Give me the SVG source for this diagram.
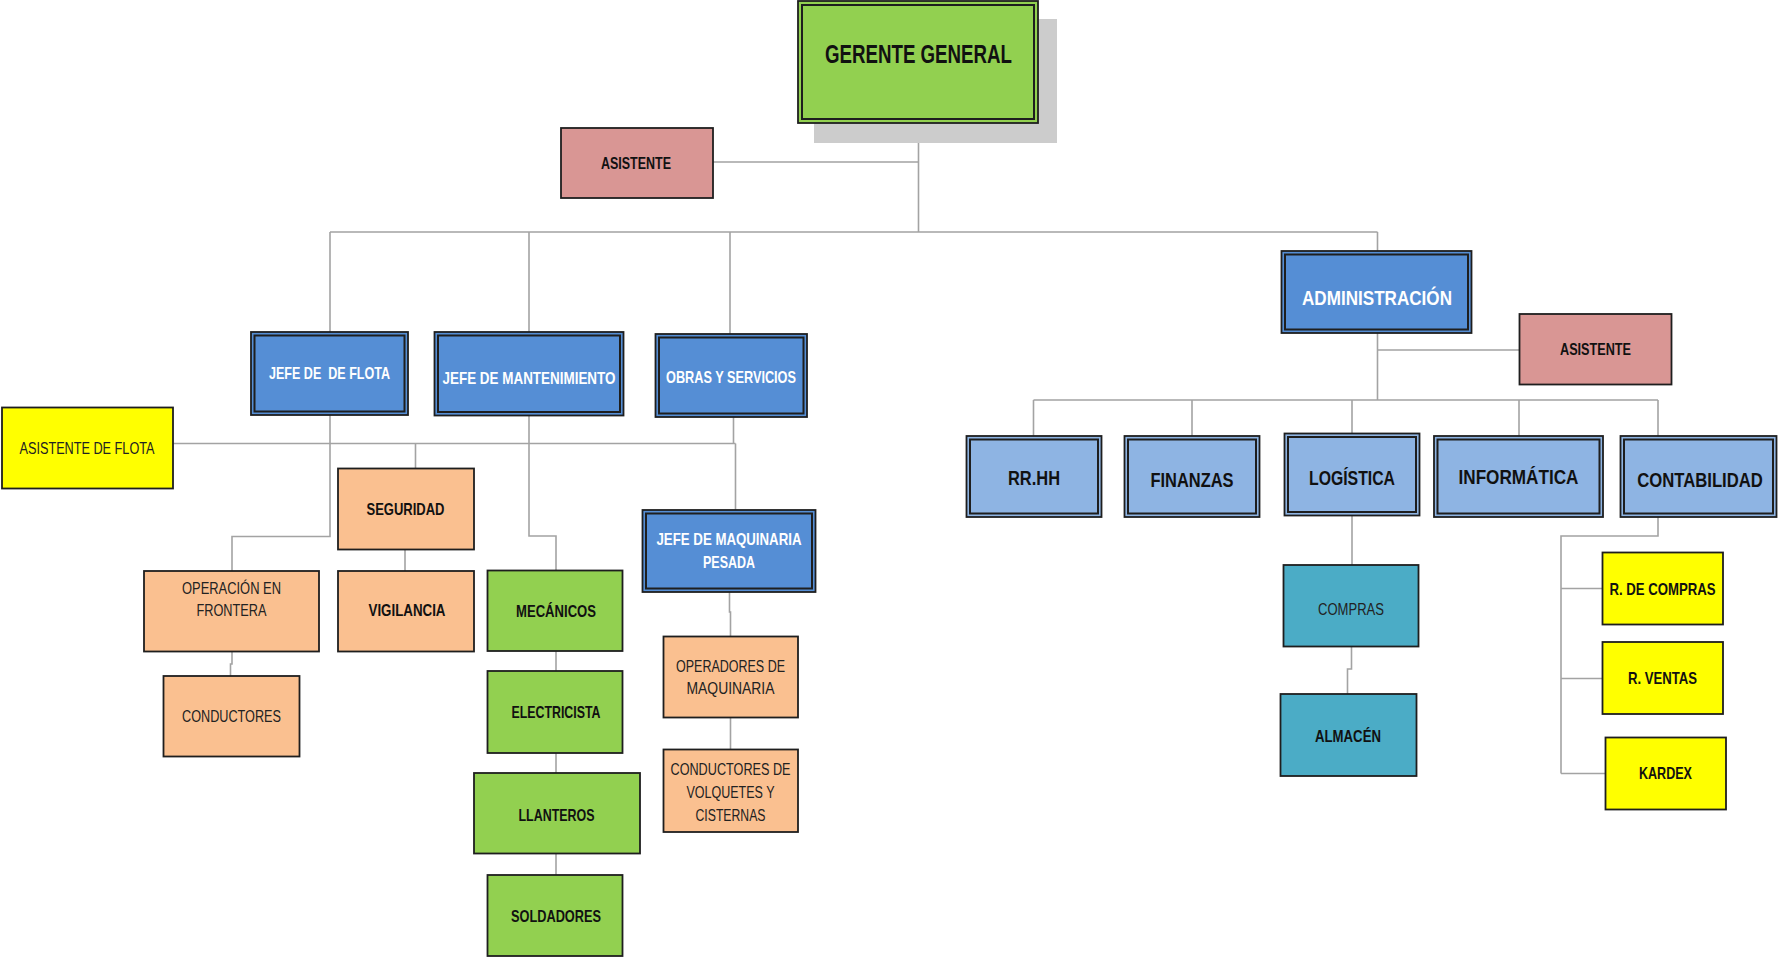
<svg xmlns="http://www.w3.org/2000/svg" width="1778" height="961" viewBox="0 0 1778 961">
<style>
.bx{stroke:#1e1e1e;stroke-width:1.8}
.in{fill:none;stroke:#1e1e1e;stroke-width:2}
.green{fill:#92D050}
.blue{fill:#558ED5}
.lblue{fill:#8EB4E3}
.pink{fill:#D99694}
.peach{fill:#FAC090}
.yellow{fill:#FFFF00}
.teal{fill:#4BACC6}
text{font-family:"Liberation Sans",Arial,sans-serif;text-anchor:middle;fill:#111}
.b{font-weight:bold;font-size:16.5px}
.r{font-weight:normal;font-size:16px;fill:#222}
.w{fill:#fff}
.big{font-size:20px}
.cn{fill:none;stroke:#a3a3a3;stroke-width:1.6}
</style>
<rect width="1778" height="961" fill="#fff"/>
<g id="connectors">
<path class="cn" d="M918.5,123V232M713,162H918.5M330,232H1377.5M330,232V332M529,232V332M730,232V334M1377.5,232V251"/>
<path class="cn" d="M173,443.5H735.5M330,415V536.5H232V571M415.5,443.5V468.5M405,549.5V571M232,651.5V664H230.5V676"/>
<path class="cn" d="M529,415.5V536H556V570.5M556,651V671M556,753V773M556,853.5V875"/>
<path class="cn" d="M733.5,417V443.5M735.5,443.5V510M729.5,592V612H730.5V636.5M730.5,717.5V749.5"/>
<path class="cn" d="M1377.5,333V400M1377.5,350H1519.5M1033.5,400H1658M1033.5,400V436M1192,400V436M1352,400V433.5M1519,400V436M1658,400V436"/>
<path class="cn" d="M1352,515.5V565M1351.5,646.5V669H1347.5V694"/>
<path class="cn" d="M1658,517V536H1561V773.5M1561,588.5H1602.5M1561,678.5H1602.5M1561,773.5H1605.5"/>
</g>
<g id="gerente">
<rect x="814" y="19" width="243" height="124" fill="#CCCCCC"/>
<rect class="bx green" x="798" y="1" width="240" height="122"/>
<rect class="in" x="802" y="5" width="232" height="114"/>
<text class="b" x="918.5" y="63" style="font-size:26px" textLength="187" lengthAdjust="spacingAndGlyphs">GERENTE GENERAL</text>
</g>
<g id="asistente1">
<rect class="bx pink" x="561" y="128" width="152" height="70"/>
<text class="b" x="636" y="168.5" textLength="70" lengthAdjust="spacingAndGlyphs">ASISTENTE</text>
</g>
<g id="jefe-flota">
<rect class="bx blue" x="251" y="332" width="157" height="83"/>
<rect class="in" x="254.5" y="335.5" width="150" height="76"/>
<text class="b w" x="329.5" y="379" xml:space="preserve" textLength="121" lengthAdjust="spacingAndGlyphs">JEFE DE  DE FLOTA</text>
</g>
<g id="jefe-mant">
<rect class="bx blue" x="434.5" y="332" width="189" height="83.5"/>
<rect class="in" x="438" y="335.5" width="182" height="76.5"/>
<text class="b w" x="529" y="383.5" textLength="173" lengthAdjust="spacingAndGlyphs">JEFE DE MANTENIMIENTO</text>
</g>
<g id="obras">
<rect class="bx blue" x="655.5" y="334" width="151.5" height="83"/>
<rect class="in" x="659" y="337.5" width="144.5" height="76"/>
<text class="b w" x="731" y="382.5" textLength="130" lengthAdjust="spacingAndGlyphs">OBRAS Y SERVICIOS</text>
</g>
<g id="asistente-flota">
<rect class="bx yellow" x="2" y="407.5" width="171" height="81"/>
<text class="r" x="87" y="453.5" textLength="135" lengthAdjust="spacingAndGlyphs">ASISTENTE DE FLOTA</text>
</g>
<g id="seguridad">
<rect class="bx peach" x="338" y="468.5" width="136" height="81"/>
<text class="b" x="405.5" y="514.5" textLength="78" lengthAdjust="spacingAndGlyphs">SEGURIDAD</text>
</g>
<g id="vigilancia">
<rect class="bx peach" x="338" y="571" width="136" height="80.5"/>
<text class="b" x="407" y="616" textLength="77" lengthAdjust="spacingAndGlyphs">VIGILANCIA</text>
</g>
<g id="operacion">
<rect class="bx peach" x="144" y="571" width="175" height="80.5"/>
<text class="r" x="231.5" y="593.5" textLength="99" lengthAdjust="spacingAndGlyphs">OPERACIÓN EN</text>
<text class="r" x="231.5" y="616" textLength="70" lengthAdjust="spacingAndGlyphs">FRONTERA</text>
</g>
<g id="conductores">
<rect class="bx peach" x="163.5" y="676" width="136" height="80.5"/>
<text class="r" x="231.5" y="721.5" textLength="99" lengthAdjust="spacingAndGlyphs">CONDUCTORES</text>
</g>
<g id="mecanicos">
<rect class="bx green" x="487.5" y="570.5" width="135" height="80.5"/>
<text class="b" x="556" y="616.5" textLength="80" lengthAdjust="spacingAndGlyphs">MECÁNICOS</text>
</g>
<g id="electricista">
<rect class="bx green" x="487.5" y="671" width="135" height="82"/>
<text class="b" x="556" y="718" textLength="89" lengthAdjust="spacingAndGlyphs">ELECTRICISTA</text>
</g>
<g id="llanteros">
<rect class="bx green" x="474" y="773" width="166" height="80.5"/>
<text class="b" x="556.5" y="820.5" textLength="76" lengthAdjust="spacingAndGlyphs">LLANTEROS</text>
</g>
<g id="soldadores">
<rect class="bx green" x="487.5" y="875" width="135" height="81"/>
<text class="b" x="556" y="921.5" textLength="90" lengthAdjust="spacingAndGlyphs">SOLDADORES</text>
</g>
<g id="jefe-maquinaria">
<rect class="bx blue" x="642.5" y="510" width="173" height="82"/>
<rect class="in" x="646" y="513.5" width="166" height="75"/>
<text class="b w" x="729" y="545" textLength="145" lengthAdjust="spacingAndGlyphs">JEFE DE MAQUINARIA</text>
<text class="b w" x="729" y="567.5" textLength="52" lengthAdjust="spacingAndGlyphs">PESADA</text>
</g>
<g id="operadores">
<rect class="bx peach" x="663.5" y="636.5" width="134.5" height="81"/>
<text class="r" x="730.5" y="671.5" textLength="109" lengthAdjust="spacingAndGlyphs">OPERADORES DE</text>
<text class="r" x="730.5" y="694" textLength="88" lengthAdjust="spacingAndGlyphs">MAQUINARIA</text>
</g>
<g id="conductores-volquetes">
<rect class="bx peach" x="663.5" y="749.5" width="134.5" height="82.5"/>
<text class="r" x="730.5" y="774.5" textLength="120" lengthAdjust="spacingAndGlyphs">CONDUCTORES DE</text>
<text class="r" x="730.5" y="797.5" textLength="88" lengthAdjust="spacingAndGlyphs">VOLQUETES Y</text>
<text class="r" x="730.5" y="820.5" textLength="70" lengthAdjust="spacingAndGlyphs">CISTERNAS</text>
</g>
<g id="administracion">
<rect class="bx blue" x="1281.5" y="251" width="190" height="82"/>
<rect class="in" x="1285" y="254.5" width="183" height="75"/>
<text class="b w" x="1377" y="305" style="font-size:21px" textLength="150" lengthAdjust="spacingAndGlyphs">ADMINISTRACIÓN</text>
</g>
<g id="asistente2">
<rect class="bx pink" x="1519.5" y="314" width="152" height="70.5"/>
<text class="b" x="1595.5" y="355" textLength="71" lengthAdjust="spacingAndGlyphs">ASISTENTE</text>
</g>
<g id="rrhh">
<rect class="bx lblue" x="966.5" y="436" width="135" height="81"/>
<rect class="in" x="970" y="439.5" width="128" height="74"/>
<text class="b big" x="1034" y="484.5" textLength="52" lengthAdjust="spacingAndGlyphs">RR.HH</text>
</g>
<g id="finanzas">
<rect class="bx lblue" x="1124.5" y="436" width="135" height="81"/>
<rect class="in" x="1128" y="439.5" width="128" height="74"/>
<text class="b big" x="1192" y="487" textLength="83" lengthAdjust="spacingAndGlyphs">FINANZAS</text>
</g>
<g id="logistica">
<rect class="bx lblue" x="1284.5" y="433.5" width="135" height="82"/>
<rect class="in" x="1288" y="437" width="128" height="75"/>
<text class="b big" x="1352" y="485" textLength="86" lengthAdjust="spacingAndGlyphs">LOGÍSTICA</text>
</g>
<g id="informatica">
<rect class="bx lblue" x="1434" y="436" width="169" height="81"/>
<rect class="in" x="1437.5" y="439.5" width="162" height="74"/>
<text class="b big" x="1518.5" y="483.5" textLength="120" lengthAdjust="spacingAndGlyphs">INFORMÁTICA</text>
</g>
<g id="contabilidad">
<rect class="bx lblue" x="1620.5" y="436" width="156" height="81"/>
<rect class="in" x="1624" y="439.5" width="149" height="74"/>
<text class="b big" transform="translate(1700,487) scale(0.834,1)" x="0" y="0">CONTABILIDAD</text>
</g>
<g id="compras">
<rect class="bx teal" x="1283.5" y="565" width="135" height="81.5"/>
<text class="r" x="1351" y="615" textLength="66" lengthAdjust="spacingAndGlyphs">COMPRAS</text>
</g>
<g id="almacen">
<rect class="bx teal" x="1280.5" y="694" width="136" height="82"/>
<text class="b" x="1348" y="742" textLength="66" lengthAdjust="spacingAndGlyphs">ALMACÉN</text>
</g>
<g id="r-compras">
<rect class="bx yellow" x="1602.5" y="552.5" width="120.5" height="72"/>
<text class="b" x="1662.5" y="595" textLength="106" lengthAdjust="spacingAndGlyphs">R. DE COMPRAS</text>
</g>
<g id="r-ventas">
<rect class="bx yellow" x="1602.5" y="642" width="120.5" height="72"/>
<text class="b" x="1662.5" y="684" textLength="69" lengthAdjust="spacingAndGlyphs">R. VENTAS</text>
</g>
<g id="kardex">
<rect class="bx yellow" x="1605.5" y="737.5" width="120.5" height="72"/>
<text class="b" x="1665.5" y="779" textLength="53" lengthAdjust="spacingAndGlyphs">KARDEX</text>
</g>
</svg>
